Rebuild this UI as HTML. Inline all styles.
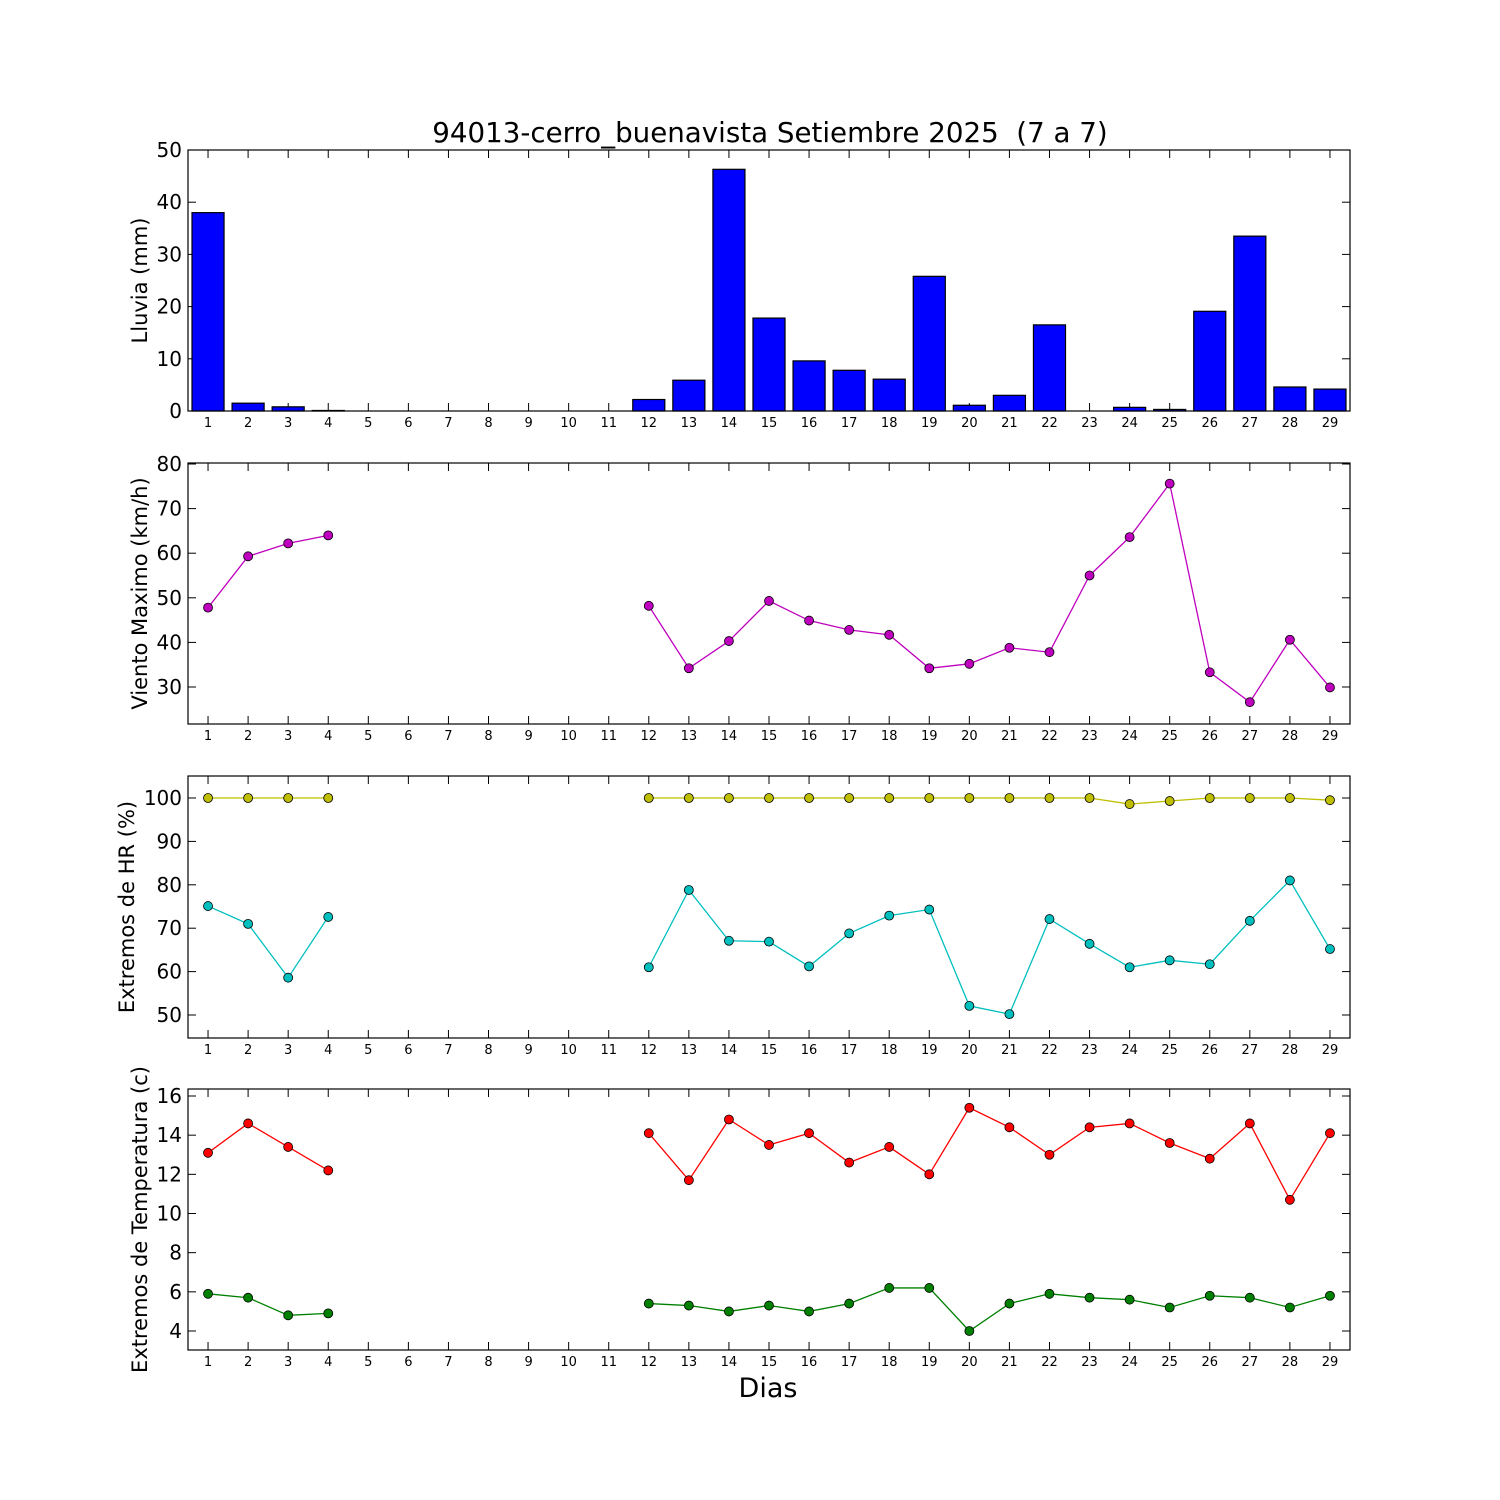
<!DOCTYPE html>
<html><head><meta charset="utf-8"><style>
html,body{margin:0;padding:0;background:#fff}
svg{display:block;font-family:"DejaVu Sans","Liberation Sans",sans-serif}
</style></head><body>
<svg id="c" width="1500" height="1500" viewBox="0 0 1500 1500" xmlns="http://www.w3.org/2000/svg">
<rect width="1500" height="1500" fill="#fff"/>
<text x="770" y="142" font-size="27.7" text-anchor="middle" xml:space="preserve">94013-cerro_buenavista Setiembre 2025  (7 a 7)</text>
<text x="768" y="1397" font-size="27" text-anchor="middle">Dias</text>
</svg>
<script>
const days = Array.from({length:29},(_,i)=>i+1);
const rain = [38,1.5,0.8,0.1,0,0,0,0,0,0,0,2.2,5.9,46.3,17.8,9.6,7.8,6.1,25.8,1.1,3.0,16.5,0,0.7,0.3,19.1,33.5,4.6,4.2];
const N=null;
const wind = [47.8,59.3,62.2,64,N,N,N,N,N,N,N,48.2,34.2,40.3,49.3,44.9,42.8,41.7,34.2,35.2,38.8,37.8,55,63.6,75.6,33.3,26.6,40.6,29.9];
const hrMax = [100,100,100,100,N,N,N,N,N,N,N,100,100,100,100,100,100,100,100,100,100,100,100,98.6,99.3,100,100,100,99.5];
const hrMin = [75.1,71,58.6,72.6,N,N,N,N,N,N,N,61,78.8,67.1,66.9,61.2,68.8,72.9,74.3,52.1,50.2,72.1,66.4,61,62.6,61.7,71.7,81,65.2];
const tMax = [13.1,14.6,13.4,12.2,N,N,N,N,N,N,N,14.1,11.7,14.8,13.5,14.1,12.6,13.4,12.0,15.4,14.4,13.0,14.4,14.6,13.6,12.8,14.6,10.7,14.1];
const tMin = [5.9,5.7,4.8,4.9,N,N,N,N,N,N,N,5.4,5.3,5.0,5.3,5.0,5.4,6.2,6.2,4.0,5.4,5.9,5.7,5.6,5.2,5.8,5.7,5.2,5.8];
const rainTicks=[0,10,20,30,40,50], windTicks=[30,40,50,60,70,80], hrTicks=[50,60,70,80,90,100], tTicks=[4,6,8,10,12,14,16];

const svg=document.getElementById('c'), NS='http://www.w3.org/2000/svg';
const X0=188,X1=1350;
const x=d=>X0+(d-0.5)*(X1-X0)/29;
function el(t,a,p){const e=document.createElementNS(NS,t);for(const k in a)e.setAttribute(k,a[k]);(p||svg).appendChild(e);return e;}
const panels=[
 {name:'rain',top:150,bot:411,v0:0,v1:50,p0:411,p1:150,ticks:rainTicks,label:'Lluvia (mm)',lx:147},
 {name:'wind',top:463,bot:724,v0:30,v1:80,p0:687,p1:464,ticks:windTicks,label:'Viento Maximo (km/h)',lx:147},
 {name:'hr',top:776,bot:1038,v0:50,v1:100,p0:1015,p1:798,ticks:hrTicks,label:'Extremos de HR (%)',lx:134},
 {name:'temp',top:1089,bot:1350,v0:4,v1:16,p0:1331,p1:1096,ticks:tTicks,label:'Extremos de Temperatura (c)',lx:147}
];
panels.forEach(P=>{P.y=v=>P.p0+(v-P.v0)*(P.p1-P.p0)/(P.v1-P.v0);});
function axes(P){
 const g=el('g',{});
 
 
 P.ticks.forEach(t=>{const yy=P.y(t);
  el('line',{x1:X0,x2:X0+8,y1:yy,y2:yy,stroke:'#000'},g);
  el('line',{x1:X1,x2:X1-8,y1:yy,y2:yy,stroke:'#000'},g);
  const tx=el('text',{x:X0-6,y:yy+7,'font-size':20,'text-anchor':'end'},g);tx.textContent=t;
  
  
 });
 days.forEach(d=>{const xx=x(d);
  el('line',{x1:xx,x2:xx,y1:P.bot,y2:P.bot-8,stroke:'#000'},g);
  el('line',{x1:xx,x2:xx,y1:P.top,y2:P.top+8,stroke:'#000'},g);
  const tx=el('text',{x:xx,y:P.bot+16,'font-size':13,'text-anchor':'middle'},g);tx.textContent=d;
  
  
 });
 const cy=(P.top+P.bot)/2;
 const lb=el('text',{x:0,y:0,'font-size':21,'text-anchor':'middle',transform:`translate(${P.lx},${cy}) rotate(-90)`},g);lb.textContent=P.label;
 
 
}
function frame(P){const r=el('rect',{x:X0,y:P.top,width:X1-X0,height:P.bot-P.top,fill:'none',stroke:'#000','stroke-width':1.2});
 
 }
function series(P,vals,col,nm){
 const g=el('g',{});
 
 
 let seg=[];const segs=[];
 vals.forEach((v,i)=>{if(v===null){if(seg.length)segs.push(seg);seg=[];}else seg.push([x(days[i]),P.y(v)]);});
 if(seg.length)segs.push(seg);
 segs.forEach(s=>el('polyline',{points:s.map(p=>p.join(',')).join(' '),fill:'none',stroke:col,'stroke-width':1.3},g));
 vals.forEach((v,i)=>{if(v===null)return;const c=el('circle',{cx:x(days[i]),cy:P.y(v),r:4.5,fill:col,stroke:'#000','stroke-width':0.8},g);
  
  });
}
const R=panels[0];
axes(R);
rain.forEach((v,i)=>{const w=0.8*(X1-X0)/29;const b=el('rect',{x:x(days[i])-w/2,y:R.y(v),width:w,height:R.y(0)-R.y(v),fill:'#0000ff',stroke:'#000','stroke-width':1.2});
 
 });
frame(R);
axes(panels[1]);series(panels[1],wind,'#bf00bf','wind-series');frame(panels[1]);
axes(panels[2]);series(panels[2],hrMax,'#bfbf00','hr-max-series');series(panels[2],hrMin,'#00bfbf','hr-min-series');frame(panels[2]);
axes(panels[3]);series(panels[3],tMax,'#ff0000','temp-max-series');series(panels[3],tMin,'#008000','temp-min-series');frame(panels[3]);
</script>
</body></html>
